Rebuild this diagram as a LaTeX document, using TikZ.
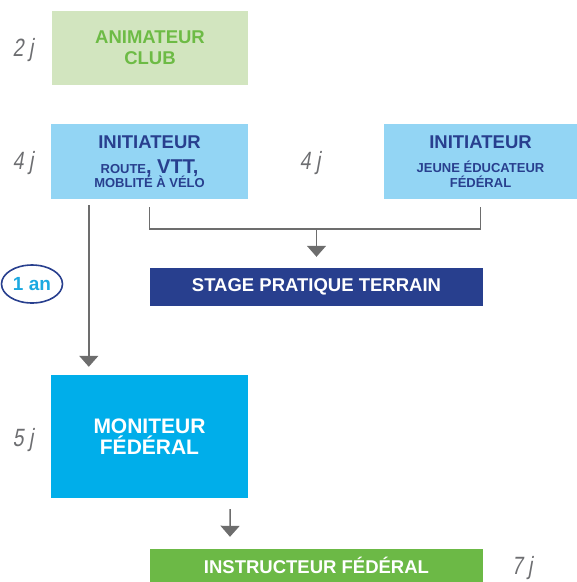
\documentclass[tikz,border=0pt]{standalone}
\usepackage{fontspec}
\setmainfont{Liberation Sans}
\newfontfamily\dayfont[FakeStretch=0.78,FakeSlant=0.18]{Liberation Sans}
\usetikzlibrary{arrows.meta, positioning, shapes.geometric, calc}
\definecolor{FFanimfill}{HTML}{D2E5BF}
\definecolor{FFanimtext}{HTML}{6DBB45}
\definecolor{FFinitfill}{HTML}{93D5F4}
\definecolor{FFnavy}{HTML}{283F8E}
\definecolor{FFcyan}{HTML}{00AEEA}
\definecolor{FFgreen}{HTML}{6CB946}
\definecolor{FFsky}{HTML}{1CA9E1}
\definecolor{FFgrey}{HTML}{6D6D6D}
\definecolor{FFday}{HTML}{6D6E71}
\newcommand{\ffsmall}{\fontsize{13}{13}\selectfont\bfseries}
\newcommand{\ffbig}{\fontsize{20}{21}\selectfont\bfseries}
\tikzset{
  ffbox/.style={rectangle, draw=none, align=center, inner sep=0pt,
    font=\fontsize{18.5}{21}\selectfont\bfseries},
  ffanim/.style={ffbox, fill=FFanimfill, text=FFanimtext},
  ffinit/.style={ffbox, fill=FFinitfill, text=FFnavy},
  ffstage/.style={ffbox, fill=FFnavy, text=white},
  ffmonit/.style={ffbox, fill=FFcyan, text=white, font=\fontsize{21}{21}\selectfont\bfseries},
  ffinstr/.style={ffbox, fill=FFgreen, text=white},
  ffday/.style={font=\fontsize{25}{25}\selectfont\dayfont, text=FFday, inner sep=0pt},
  ffline/.style={draw=FFgrey, line width=1.5pt},
  ffarr/.style={ffline, -{Triangle[width=19pt,length=11pt]}},
  ffyear/.style={ellipse, draw=FFnavy, line width=1.6pt, text=FFsky, inner sep=0pt,
    minimum width=61pt, minimum height=38pt, font=\fontsize{19}{19}\selectfont\bfseries},
}
\begin{document}
\begin{tikzpicture}[x=1pt, y=-1pt]
        \useasboundingbox (0,0) rectangle (577,582);
        \node[ffanim, minimum width=196pt, minimum height=74pt] (anim) at (150,48) {ANIMATEUR\\CLUB};
        \node[ffinit, minimum width=197pt, minimum height=75pt] (initL) at (149.5,161.5)
          {INITIATEUR\\[4pt]{\ffsmall ROUTE}{\ffbig, VTT,}\\[-7pt]{\ffsmall MOBLITÉ À VÉLO}};
        \node[ffinit, minimum width=193pt, minimum height=75pt] (initR) at (480.5,161.5)
          {INITIATEUR\\[3pt]{\ffsmall JEUNE ÉDUCATEUR}\\[-6pt]{\ffsmall FÉDÉRAL}};
        \node[ffstage, minimum width=333pt, minimum height=38pt] (stage) at (316.5,287) {STAGE PRATIQUE TERRAIN};
        \node[ffmonit, minimum width=197pt, minimum height=123pt] (monit) at (149.5,436.5) {MONITEUR\\FÉDÉRAL};
        \node[ffinstr, minimum width=333pt, minimum height=33pt] (instr) at (316.5,565.5) {INSTRUCTEUR FÉDÉRAL};
        \node[ffyear] (year) at (32,284) {1 an};
        \node[ffday] (d2) at (23,50) {2 j};
        \node[ffday] (d4a) at (23,163) {4 j};
        \node[ffday] (d4b) at (310,163) {4 j};
        \node[ffday] (d5) at (23,440) {5 j};
        \node[ffday] (d7) at (522,568) {7 j};
        \coordinate (join) at ([yshift=39pt]stage.north);
        \draw[ffline] ([yshift=-8pt]initL.south) |- (join) -| ([yshift=-8pt]initR.south);
        \draw[ffarr] (join) -- ([yshift=11pt]stage.north);
        \draw[ffarr] ([xshift=38pt,yshift=-6pt]initL.south west) -- ([xshift=38pt,yshift=8pt]monit.north west);
        \draw[ffarr] ([xshift=-18pt,yshift=-11pt]monit.south east) -- ([xshift=-86.5pt,yshift=12pt]instr.north);
      \end{tikzpicture}
\end{document}
